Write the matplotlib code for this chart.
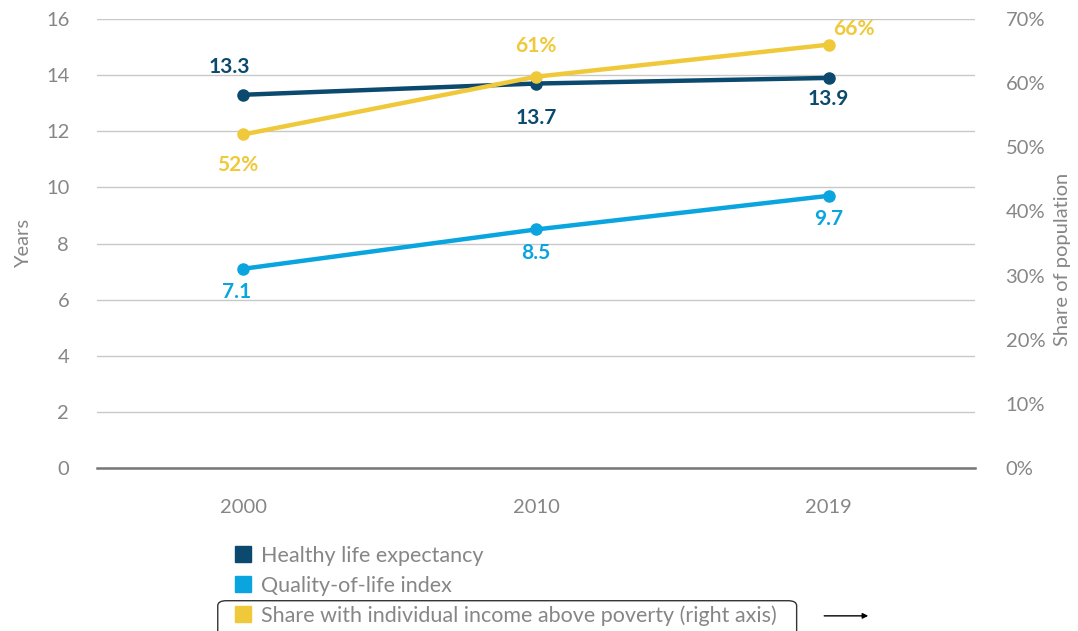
import matplotlib.pyplot as plt
from matplotlib.lines import Line2D
from matplotlib.patches import FancyBboxPatch

plt.rcParams['font.family'] = ['Lato', 'DejaVu Sans']

# data
years = ['2000', '2010', '2019']
healthy_life = [13.3, 13.7, 13.9]
quality_index = [7.1, 8.5, 9.7]
share_above_poverty = [52, 61, 66]

navy = '#0b4a6e'
cyan = '#0aa5df'
yellow = '#f0c93a'
grey = '#868686'

fig = plt.figure(figsize=(10.78, 6.31), dpi=100)
ax = fig.add_axes([0.09, 0.2583, 0.8145, 0.7116])
ax2 = ax.twinx()

x = list(range(len(years)))

ax.plot(x, healthy_life, color=navy, lw=3.2, marker='o', ms=8, zorder=4)
ax.plot(x, quality_index, color=cyan, lw=3.2, marker='o', ms=8, zorder=4)
ax2.plot(x, share_above_poverty, color=yellow, lw=3.2, marker='o', ms=8, zorder=3)

ax.set_xlim(-0.5, 2.5)
ax.set_ylim(0, 16)
ax.set_yticks(range(0, 17, 2))
ax2.set_ylim(0, 70)
ax2.set_yticks(range(0, 71, 10))
ax2.set_yticklabels([f'{v}%' for v in range(0, 71, 10)])
ax.set_xticks(x)
ax.set_xticklabels(years)

ax.grid(axis='y', color='#c8c8c8', lw=1)
ax.set_axisbelow(True)
for a in (ax, ax2):
    for s in a.spines.values():
        s.set_visible(False)
    a.tick_params(length=0, labelsize=14.5, colors=grey)
ax.tick_params(axis='y', pad=20)
ax.tick_params(axis='x', pad=22)
ax2.tick_params(axis='y', pad=22)
ax.axhline(0, color='#777777', lw=1.8, zorder=2, clip_on=False)

ax.set_ylabel('Years', fontsize=14.5, color=grey, labelpad=10)
ax2.set_ylabel('Share of population', fontsize=14.5, color=grey)
ax2.yaxis.set_label_coords(1.09, 0.465)

# value labels
lab = dict(fontsize=15, fontweight='bold', ha='center', va='center')
hl_off = [20, -25, -15]
for i, v in enumerate(healthy_life):
    ax.annotate(f'{v}', (i, v), xytext=(-10 if i == 0 else 0, hl_off[i]),
                textcoords='offset points', color=navy, **lab)
for i, v in enumerate(quality_index):
    ax.annotate(f'{v}', (i, v), xytext=(-5 if i == 0 else 0, -17),
                textcoords='offset points', color=cyan, **lab)
sh_off = [(-4, -22), (0, 22), (18, 11)]
for i, v in enumerate(share_above_poverty):
    ax2.annotate(f'{v}%', (i, v), xytext=sh_off[i],
                 textcoords='offset points', color=yellow, **lab)

# legend
handles = [Line2D([], [], ls='none', marker='s', ms=11, color=c)
           for c in (navy, cyan, yellow)]
names = ['Healthy life expectancy', 'Quality-of-life index',
         'Share with individual income above poverty (right axis)']
leg = fig.legend(handles, names, loc='upper left', bbox_to_anchor=(0.208, 0.152),
                 frameon=False, fontsize=15.5, handlelength=0.7, handletextpad=0.5,
                 labelspacing=0.45, borderpad=0)
for t in leg.get_texts():
    t.set_color(grey)

box = FancyBboxPatch((0.202, -0.01), 0.537, 0.058, transform=fig.transFigure,
                     boxstyle='round,pad=0,rounding_size=0.008',
                     fc='none', ec='#333333', lw=1)
fig.patches.append(box)
fig.add_artist(plt.Annotation('', xy=(0.808, 0.024), xytext=(0.762, 0.024),
                              xycoords='figure fraction',
                              arrowprops=dict(arrowstyle='-|>', color='black',
                                              lw=1, mutation_scale=8)))

fig.savefig('out.png', dpi=100)
